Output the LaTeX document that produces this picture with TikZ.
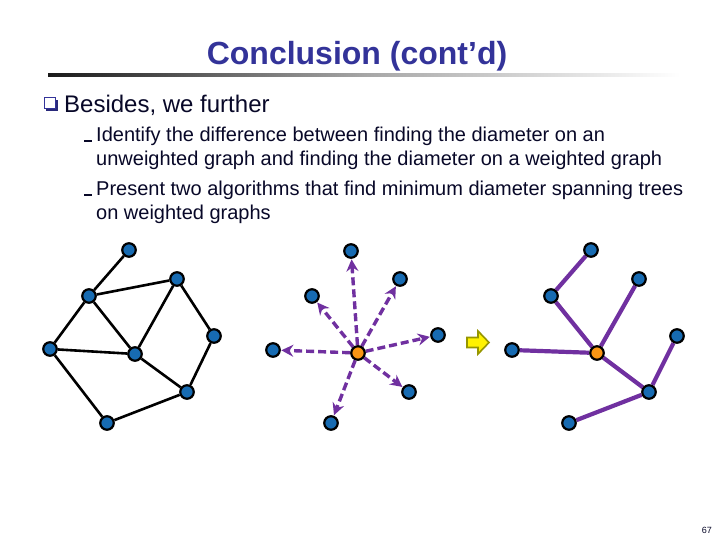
\documentclass[tikz,border=0pt]{standalone}
\usepackage{fontspec}
\setmainfont{Liberation Sans}
\usetikzlibrary{arrows.meta,backgrounds}
\definecolor{titleblue}{RGB}{51,51,153}
\definecolor{txt}{RGB}{8,8,40}
\definecolor{nodeblue}{RGB}{23,107,178}
\definecolor{nodeorange}{RGB}{250,150,20}
\definecolor{purp}{RGB}{112,48,160}
\definecolor{olive}{RGB}{150,150,0}
\begin{document}
\begin{tikzpicture}[x=1pt,y=-1pt,
  vtx/.style={circle,draw=black,line width=2.2pt,fill=nodeblue,minimum size=13.5pt,inner sep=0pt},
  ctr/.style={vtx,fill=nodeorange},
  bedge/.style={line width=2.6pt,black},
  darrow/.style={line width=3.4pt,purp,dash pattern=on 8pt off 4pt,-{Stealth[length=12pt,width=12pt,inset=4pt]},shorten >=0.5pt},
  tedge/.style={line width=4.2pt,purp},
  txtline/.style={anchor=base west,inner sep=0pt,text=txt,font=\fontsize{20}{24}\selectfont},
  subdash/.style={txt,line width=1.2pt}]
\useasboundingbox (0,0) rectangle (720,540);
% title
\node[anchor=base,inner sep=0pt,text=titleblue,font=\fontsize{32}{36}\selectfont\bfseries] (title) at (357,65) {Conclusion (cont’d)};
\shade[left color=black!90,right color=white,middle color=gray!70] (48,73.5) rectangle (680,77);
% bullet
\fill[titleblue!80!black] (46,100) rectangle (57.5,111.5);
\fill[white] (44,98) rectangle (55,109);
\draw[titleblue,line width=1pt] (44,98) rectangle (55,109);
\node[anchor=base west,inner sep=0pt,text=txt,font=\fontsize{24}{28}\selectfont] (b1) at (64,113) {Besides, we further};
% sub bullets
\draw[subdash] (84,141) -- (91.5,141);
\node[txtline] (s1a) at (96,142) {Identify the difference between finding the diameter on an};
\node[txtline] (s1b) at (96,166) {unweighted graph and finding the diameter on a weighted graph};
\draw[subdash] (84,195) -- (91.5,195);
\node[txtline] (s2a) at (96,196) {Present two algorithms that find minimum diameter spanning trees};
\node[txtline] (s2b) at (96,220) {on weighted graphs};
% graph 1
\node[vtx] (a) at (129,250) {};
\node[vtx] (b) at (89,296) {};
\node[vtx] (c) at (177,279) {};
\node[vtx] (d) at (50,349) {};
\node[vtx] (e) at (135,354) {};
\node[vtx] (f) at (214,336) {};
\node[vtx] (g) at (187,392) {};
\node[vtx] (h) at (107,423) {};
% graph 2
\node[ctr] (o) at (358,353) {};
\node[vtx] (p1) at (351,251) {};
\node[vtx] (p2) at (400,279) {};
\node[vtx] (p3) at (312,296) {};
\node[vtx] (p4) at (438,335) {};
\node[vtx] (p5) at (273,350) {};
\node[vtx] (p6) at (409,392) {};
\node[vtx] (p7) at (331,423) {};
% graph 3
\node[ctr] (q0) at (597,353) {};
\node[vtx] (q1) at (591,250) {};
\node[vtx] (q2) at (639,279) {};
\node[vtx] (q3) at (551,296) {};
\node[vtx] (q4) at (677,336) {};
\node[vtx] (q5) at (512,350) {};
\node[vtx] (q6) at (649,392) {};
\node[vtx] (q7) at (569,423) {};
\begin{scope}[on background layer]
\fill[white] (0,0) rectangle (720,540);
\draw[bedge] (a) -- (b) (b) -- (c) (b) -- (d) (b) -- (e) (c) -- (e) (c) -- (f)
  (d) -- (e) (d) -- (h) (e) -- (g) (f) -- (g) (g) -- (h);
\foreach \t in {p1,p2,p3,p4,p5,p6,p7} \draw[darrow] (o) -- (\t);
\draw[tedge] (q1) -- (q3) (q3) -- (q0) (q2) -- (q0) (q5) -- (q0) (q0) -- (q6) (q4) -- (q6) (q6) -- (q7);
\end{scope}
% yellow arrow
\draw[olive,fill=yellow,line width=1.6pt,line join=miter]
  (467,337.5) -- (478,337.5) -- (478,331) -- (489,342.5) -- (478,354) -- (478,347.5) -- (467,347.5) -- cycle;
% page number
\node[anchor=base east,inner sep=0pt,text=txt,font=\fontsize{9}{10}\selectfont] (pg) at (712,533) {67};
\end{tikzpicture}
\end{document}
